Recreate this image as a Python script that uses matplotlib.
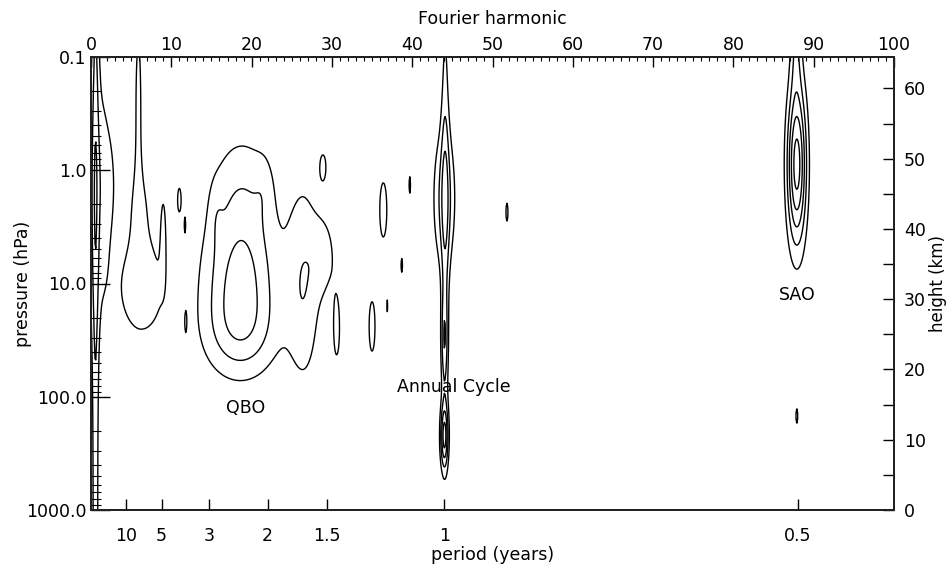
import matplotlib
matplotlib.use("Agg")
import matplotlib.pyplot as plt
import numpy as np

# length of the record in years (harmonic = n_years / period)
n_years = 44.0

# spectral peaks: harmonic, log10(pressure), widths, power
peak_harm = [0.55, 0.8, 2.3,
             5.9, 6.0, 6.3, 9.0, 11.0, 11.7, 11.8,
             18.6, 18.6, 18.8, 15.6, 21.5, 26.5, 29.0, 30.6, 28.9,
             36.4, 39.7, 38.7, 35.0, 36.9, 51.8,
             44.0, 44.1, 44.0, 44.0,
             87.9, 87.8, 87.9]
peak_logp = [1.0, 0.2, 0.1,
             -0.6, 0.3, 1.05, 0.53, 0.26, 0.48, 1.34,
             1.45, 0.95, 0.3, 0.4, 0.15, 1.0, 0.75, 1.4, -0.03,
             0.35, 0.13, 0.84, 1.38, 1.2, 0.37,
             0.25, 0.3, 1.5, 2.35,
             -0.05, -1.1, 2.17]
peak_wh = [0.3, 1.2, 0.8,
           0.35, 1.2, 2.3, 0.3, 0.25, 0.1, 0.1,
           3.3, 3.3, 3.0, 0.6, 0.8, 1.5, 1.1, 0.45, 0.4,
           0.6, 0.15, 0.15, 0.5, 0.1, 0.2,
           1.0, 0.35, 0.3, 0.35,
           0.85, 0.5, 0.2]
peak_wl = [9.0, 0.9, 0.35,
           0.6, 0.32, 0.34, 0.3, 0.12, 0.08, 0.08,
           0.3, 0.35, 0.45, 0.2, 0.2, 0.65, 0.25, 0.3, 0.12,
           0.33, 0.12, 0.1, 0.3, 0.1, 0.13,
           0.45, 1.4, 0.3, 0.2,
           0.5, 0.3, 0.12]
peak_pow = [1.6, 1.6, 0.7,
            1.4, 1.1, 1.7, 1.15, 1.3, 1.1, 1.1,
            2.3, 2.3, 1.9, 0.5, 0.5, 1.8, 1.3, 1.3, 1.3,
            1.3, 1.2, 1.2, 1.3, 1.1, 1.2,
            2.3, 1.6, 2.0, 4.0,
            5.5, 1.5, 1.15]

levels = [1, 2, 3, 4, 5, 6]

harm_ticks = np.arange(0, 101, 10)
period_ticks = [10, 5, 3, 2, 1.5, 1, 0.5]
period_labels = ["10", "5", "3", "2", "1.5", "1", "0.5"]
p_ticks = [0.1, 1.0, 10.0, 100.0, 1000.0]
p_labels = ["0.1", "1.0", "10.0", "100.0", "1000.0"]
z_ticks = np.arange(0, 61, 10)

h = np.linspace(0, 100, 1001)
lp = np.linspace(-1, 3, 801)
H, LP = np.meshgrid(h, lp)
power = np.zeros_like(H)
for h0, l0, wh, wl, a in zip(peak_harm, peak_logp, peak_wh, peak_wl, peak_pow):
    power += a * np.exp(-0.5 * ((H - h0) / wh) ** 2 - 0.5 * ((LP - l0) / wl) ** 2)

plt.rcParams['font.family'] = ['DejaVu Sans']
fig = plt.figure(figsize=(9.47, 5.70), dpi=100)
ax = fig.add_axes([91 / 947, 60 / 570, 803 / 947, 453 / 570])
axb = ax.twiny()
axr = ax.twinx()

ax.contour(h, 10 ** lp, power, levels=levels, colors='black', linewidths=1.0)
ax.set_yscale('log')
ax.set_ylim(1000, 0.1)
ax.set_xlim(0, 100)

fs = 12.5
# top axis: Fourier harmonic
ax.xaxis.tick_top()
ax.xaxis.set_label_position('top')
ax.set_xticks(harm_ticks)
ax.set_xticklabels([str(t) for t in harm_ticks], fontsize=fs)
ax.set_xticks(np.arange(0, 101, 1), minor=True)
ax.tick_params(axis='x', which='major', direction='in', length=7, width=1,
               pad=2, top=True, bottom=False)
ax.tick_params(axis='x', which='minor', direction='in', length=3, width=0.8,
               top=True, bottom=False)
ax.set_xlabel("Fourier harmonic", fontsize=fs, labelpad=9)

# left axis: pressure
ax.set_yticks(p_ticks)
ax.set_yticklabels(p_labels, fontsize=fs)
ax.tick_params(axis='y', which='major', direction='in', length=14, width=1, right=False, pad=3)
ax.tick_params(axis='y', which='minor', direction='in', length=7, width=0.8, right=False)
ax.set_ylabel("pressure (hPa)", fontsize=fs)
ax.yaxis.set_label_coords(-0.074, 0.5)

# bottom axis: period
axb.xaxis.tick_bottom()
axb.xaxis.set_label_position('bottom')
axb.set_xlim(0, 100)
axb.set_xticks([n_years / p for p in period_ticks])
axb.set_xticklabels(period_labels, fontsize=fs)
axb.tick_params(axis='x', direction='in', length=8, width=1, top=False, bottom=True, pad=12)
axb.set_xlabel("period (years)", fontsize=fs, labelpad=1)

# right axis: height
axr.set_ylim(0, 7 * np.log(1000 / 0.1))
axr.set_yticks(z_ticks)
axr.set_yticklabels([str(t) for t in z_ticks], fontsize=fs)
axr.set_yticks(np.arange(5, 61, 10), minor=True)
axr.tick_params(axis='y', which='both', direction='in', length=8, width=1,
                left=False, right=True, pad=7)
axr.set_ylabel("height (km)", fontsize=12)
axr.yaxis.set_label_coords(1.043, 0.5)

for a in (ax, axb, axr):
    for s in a.spines.values():
        s.set_linewidth(1.4)
        s.set_color('#222222')

ax.text(19.2, 10 ** 2.10, "QBO", fontsize=fs, ha='center', va='center')
ax.text(45.2, 10 ** 1.914, "Annual Cycle", fontsize=fs, ha='center', va='center')
ax.text(88.0, 10 ** 1.10, "SAO", fontsize=fs, ha='center', va='center')

fig.savefig("out.png", dpi=100)
